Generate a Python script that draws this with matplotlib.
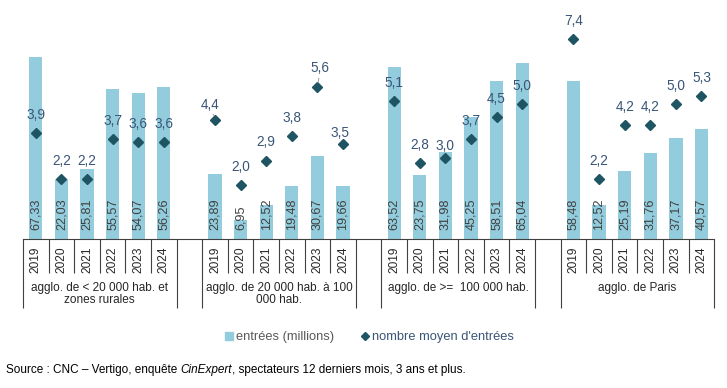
import matplotlib.pyplot as plt
from matplotlib.lines import Line2D

plt.rcParams['font.family'] = ['Liberation Sans', 'DejaVu Sans']

# data
groups = ["agglo. de < 20 000 hab. et\nzones rurales",
          "agglo. de 20 000 hab. à 100\n000 hab.",
          "agglo. de >=  100 000 hab.",
          "agglo. de Paris"]
years = ["2019", "2020", "2021", "2022", "2023", "2024"]

entrees_rural = [67.33, 22.03, 25.81, 55.57, 54.07, 56.26]
entrees_moyen = [23.89, 6.95, 12.52, 19.48, 30.67, 19.66]
entrees_grand = [63.52, 23.75, 31.98, 45.25, 58.51, 65.04]
entrees_paris = [58.48, 12.52, 25.19, 31.76, 37.17, 40.57]

moyenne_rural = [3.9, 2.2, 2.2, 3.7, 3.6, 3.6]
moyenne_moyen = [4.4, 2.0, 2.9, 3.8, 5.6, 3.5]
moyenne_grand = [5.1, 2.8, 3.0, 3.7, 4.5, 5.0]
moyenne_paris = [7.4, 2.2, 4.2, 4.2, 5.0, 5.3]

entrees = [entrees_rural, entrees_moyen, entrees_grand, entrees_paris]
moyennes = [moyenne_rural, moyenne_moyen, moyenne_grand, moyenne_paris]

BAR_COLOR = '#93CDDD'
DIAMOND_COLOR = '#1F5462'
LABEL_BLUE = '#3A5577'
VALUE_GREY = '#404040'
AXIS_COLOR = '#404040'

# label offsets (points) for the diamond labels that were moved in the original
label_shift = {(1, 0): (-3.6, 11.0), (1, 4): (2.0, 13.7),
               (1, 5): (-2.0, 8.0), (2, 2): (0.0, 8.4)}
leaders = {(1, 0), (1, 4)}


def fr(v, nd):
    return f"{v:.{nd}f}".replace('.', ',')


fig = plt.figure(figsize=(7.27, 3.88), dpi=100)
ax = fig.add_axes([0.0316, 0.384, 0.9509, 0.5928])
ax2 = ax.twinx()

n_slots = len(groups) * (len(years) + 1) - 1
ax.set_xlim(0, n_slots)
ax.set_ylim(0, 85)
ax2.set_ylim(0, 8.5)

for g in range(len(groups)):
    xs = [g * (len(years) + 1) + j + 0.5 for j in range(len(years))]
    ax.bar(xs, entrees[g], width=0.52, color=BAR_COLOR, zorder=2)
    ax2.plot(xs, moyennes[g], ls='', marker='D', ms=5.2,
             color=DIAMOND_COLOR, zorder=3)

    for j, x in enumerate(xs):
        # value inside the bar, rotated
        ax.annotate(fr(entrees[g][j], 2), xy=(x, 0), xytext=(0, 6.5),
                    textcoords='offset points', rotation=90,
                    ha='center', va='bottom', fontsize=9.1,
                    color=VALUE_GREY, zorder=4)
        # diamond label
        dx, dy = label_shift.get((g, j), (0.0, 13.0))
        arrow = None
        if (g, j) in leaders:
            arrow = dict(arrowstyle='-', color='#A6A6A6', lw=0.8,
                         shrinkA=0, shrinkB=3.5)
        ax2.annotate(fr(moyennes[g][j], 1), xy=(x, moyennes[g][j]),
                     xytext=(dx, dy), textcoords='offset points',
                     ha='center', va='center', fontsize=9.8,
                     color=LABEL_BLUE, arrowprops=arrow, zorder=5)
        # year label under the axis
        ax.annotate(years[j], xy=(x, 0), xycoords=('data', 'axes fraction'),
                    xytext=(0, -14.9), textcoords='offset points',
                    rotation=90, ha='center', va='center', fontsize=8.6,
                    color='#262626', annotation_clip=False)

    # group label
    xc = g * (len(years) + 1) + len(years) / 2
    for k, line in enumerate(groups[g].split('\n')):
        ax.annotate(line, xy=(xc, 0), xycoords=('data', 'axes fraction'),
                    xytext=(0, -35.5 - k * 8.4), textcoords='offset points',
                    ha='center', va='center', fontsize=8.5,
                    color='#262626', annotation_clip=False)

# category axis: long ticks at group edges, short ones between years
major = []
minor = []
for g in range(len(groups)):
    start = g * (len(years) + 1)
    major += [start, start + len(years)]
    minor += [start + j for j in range(1, len(years))]
ax.set_xticks(major)
ax.set_xticks(minor, minor=True)
ax.tick_params(axis='x', which='major', length=49.7, width=0.8,
               color=AXIS_COLOR, labelbottom=False)
ax.tick_params(axis='x', which='minor', length=24.5, width=0.8,
               color=AXIS_COLOR, labelbottom=False)
ax.set_yticks([])
ax2.set_yticks([])
for a in (ax, ax2):
    for side in ('top', 'left', 'right'):
        a.spines[side].set_visible(False)
ax2.spines['bottom'].set_visible(False)
ax.spines['bottom'].set_color(AXIS_COLOR)
ax.spines['bottom'].set_linewidth(0.8)
ax.patch.set_visible(False)

# legend
handles = [Line2D([], [], ls='', marker='s', ms=6.0, color=BAR_COLOR),
           Line2D([], [], ls='', marker='D', ms=3.6, color=DIAMOND_COLOR)]
leg = fig.legend(handles, ['entrées (millions)', "nombre moyen d'entrées"],
                 loc='center', bbox_to_anchor=(0.508, 0.131), ncol=2,
                 frameon=False, fontsize=9.3, handlelength=0.6,
                 handletextpad=0.25, columnspacing=2.1)
leg.get_texts()[0].set_color('#595959')
leg.get_texts()[1].set_color(LABEL_BLUE)

# source line with the italic survey name
pieces = [("Source : CNC – Vertigo, enquête ", 'normal'),
          ("CinExpert", 'italic'),
          (", spectateurs 12 derniers mois, 3 ans et plus.", 'normal')]
renderer = fig.canvas.get_renderer()
x_px = 6
for text, style in pieces:
    t = fig.text(x_px / 727, 0.0464, text, fontsize=8.45, style=style,
                 va='center', ha='left', color='black')
    x_px += t.get_window_extent(renderer).width

fig.savefig('out.png', dpi=100)
